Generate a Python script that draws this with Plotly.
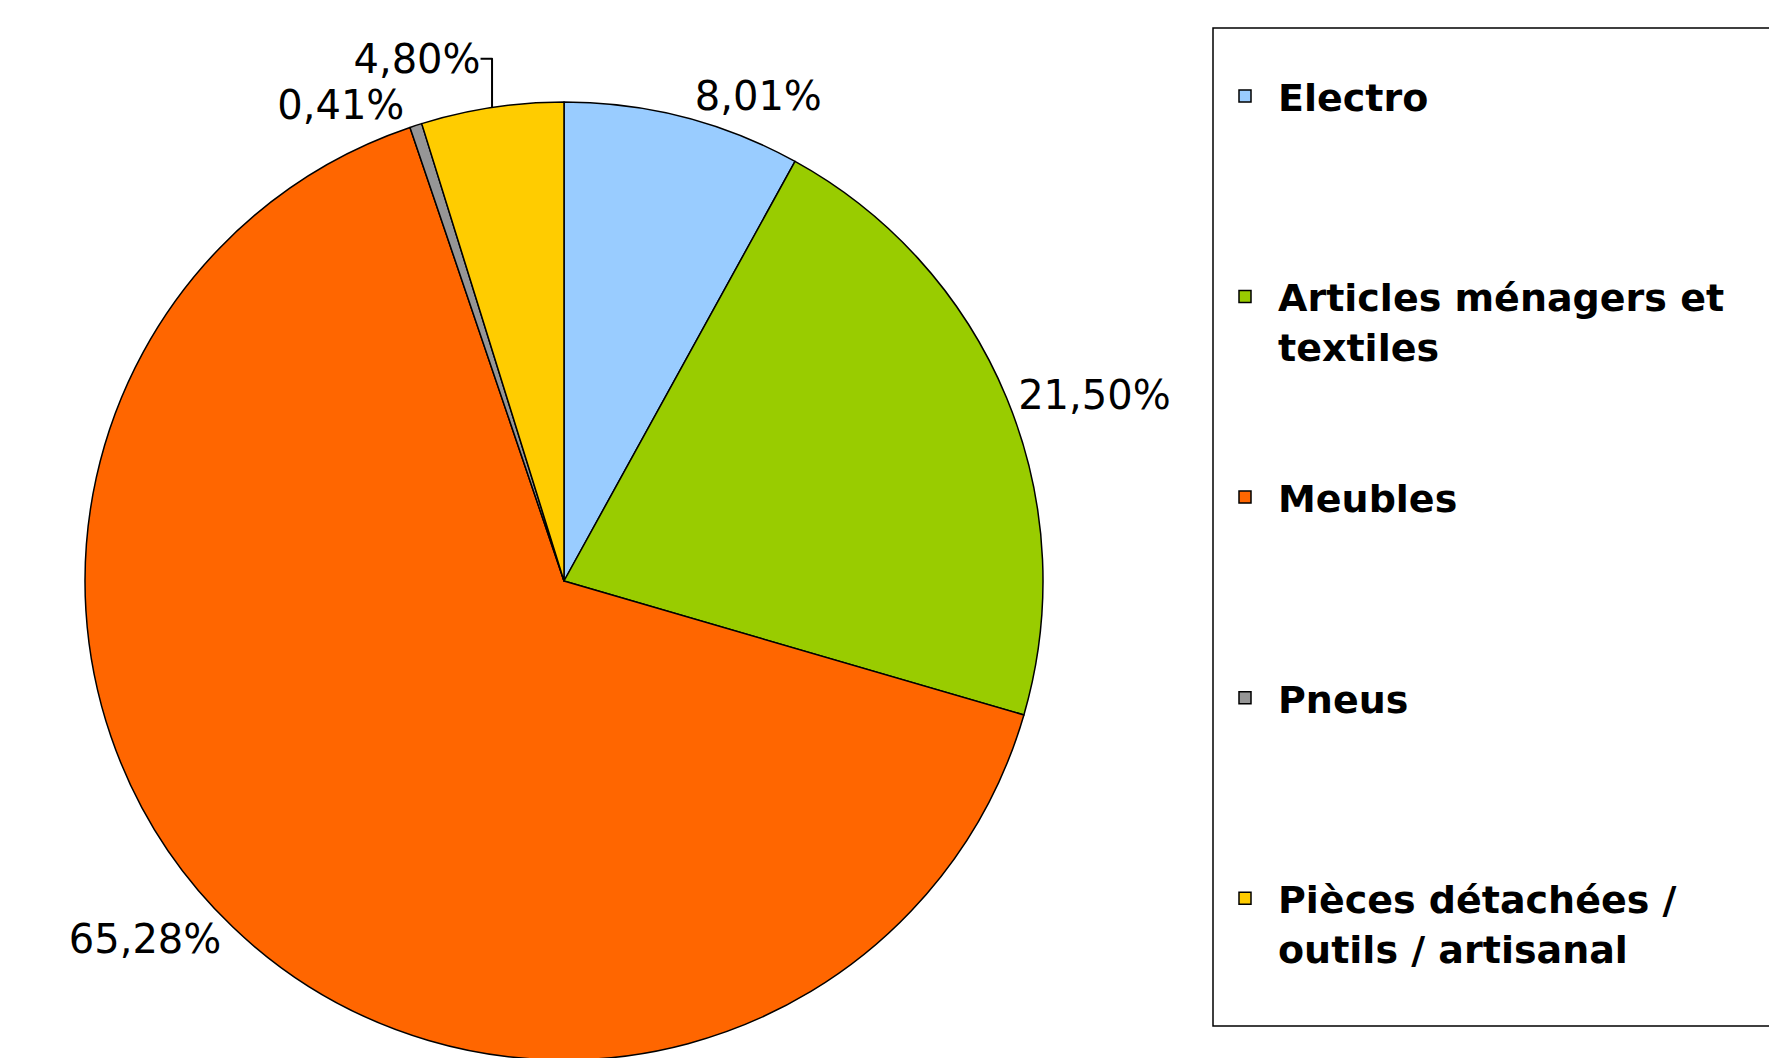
import plotly.graph_objects as go

categories = ["Electro", "Articles ménagers et<br>textiles", "Meubles", "Pneus",
              "Pièces détachées /<br>outils / artisanal"]
shares = [8.01, 21.50, 65.28, 0.41, 4.80]
colors = ["#99CCFF", "#99CC00", "#FF6600", "#969696", "#FFCC00"]

LINES_PER_ITEM = 4
legend_labels = []
for i, c in enumerate(categories):
    n = c.count("<br>") + 1
    total = LINES_PER_ITEM if i < len(categories) - 1 else LINES_PER_ITEM - 1
    legend_labels.append(c + "<br>&nbsp;" * (total - n))

W, H = 1777, 1058
cx, cy, r = 556, 573, 479

fig = go.Figure(go.Pie(
    labels=legend_labels,
    values=shares,
    sort=False,
    direction="clockwise",
    rotation=0,
    marker=dict(colors=colors, line=dict(color="black", width=1.5)),
    textposition="outside",
    texttemplate="%{percent:.2%}",
    textfont=dict(family="DejaVu Sans", size=40, color="black"),
    hoverinfo="skip",
    domain=dict(x=[(cx - r) / W, (cx + r) / W],
                y=[(H - (cy + r)) / H, (H - (cy - r)) / H]),
))

fig.update_layout(
    width=W, height=H,
    separators=", ",
    paper_bgcolor="white",
    plot_bgcolor="white",
    margin=dict(l=0, r=0, t=0, b=0, autoexpand=False),
    showlegend=True,
    legend=dict(
        x=1204 / W, y=1 - 19 / H, xanchor="left", yanchor="top",
        borderwidth=0, bgcolor="rgba(0,0,0,0)",
        font=dict(family="DejaVu Sans", size=38, color="black", weight="bold"),
        valign="top",
        traceorder="normal",
        itemwidth=56,
        title=dict(text="&nbsp;", font=dict(size=29)),
    ),
    shapes=[dict(
        type="rect", xref="paper", yref="paper",
        x0=1205 / W, x1=1.02, y0=1 - 1018 / H, y1=1 - 20 / H,
        line=dict(color="black", width=1.5), fillcolor="rgba(0,0,0,0)",
    )],
)

fig.write_html("out.html")
